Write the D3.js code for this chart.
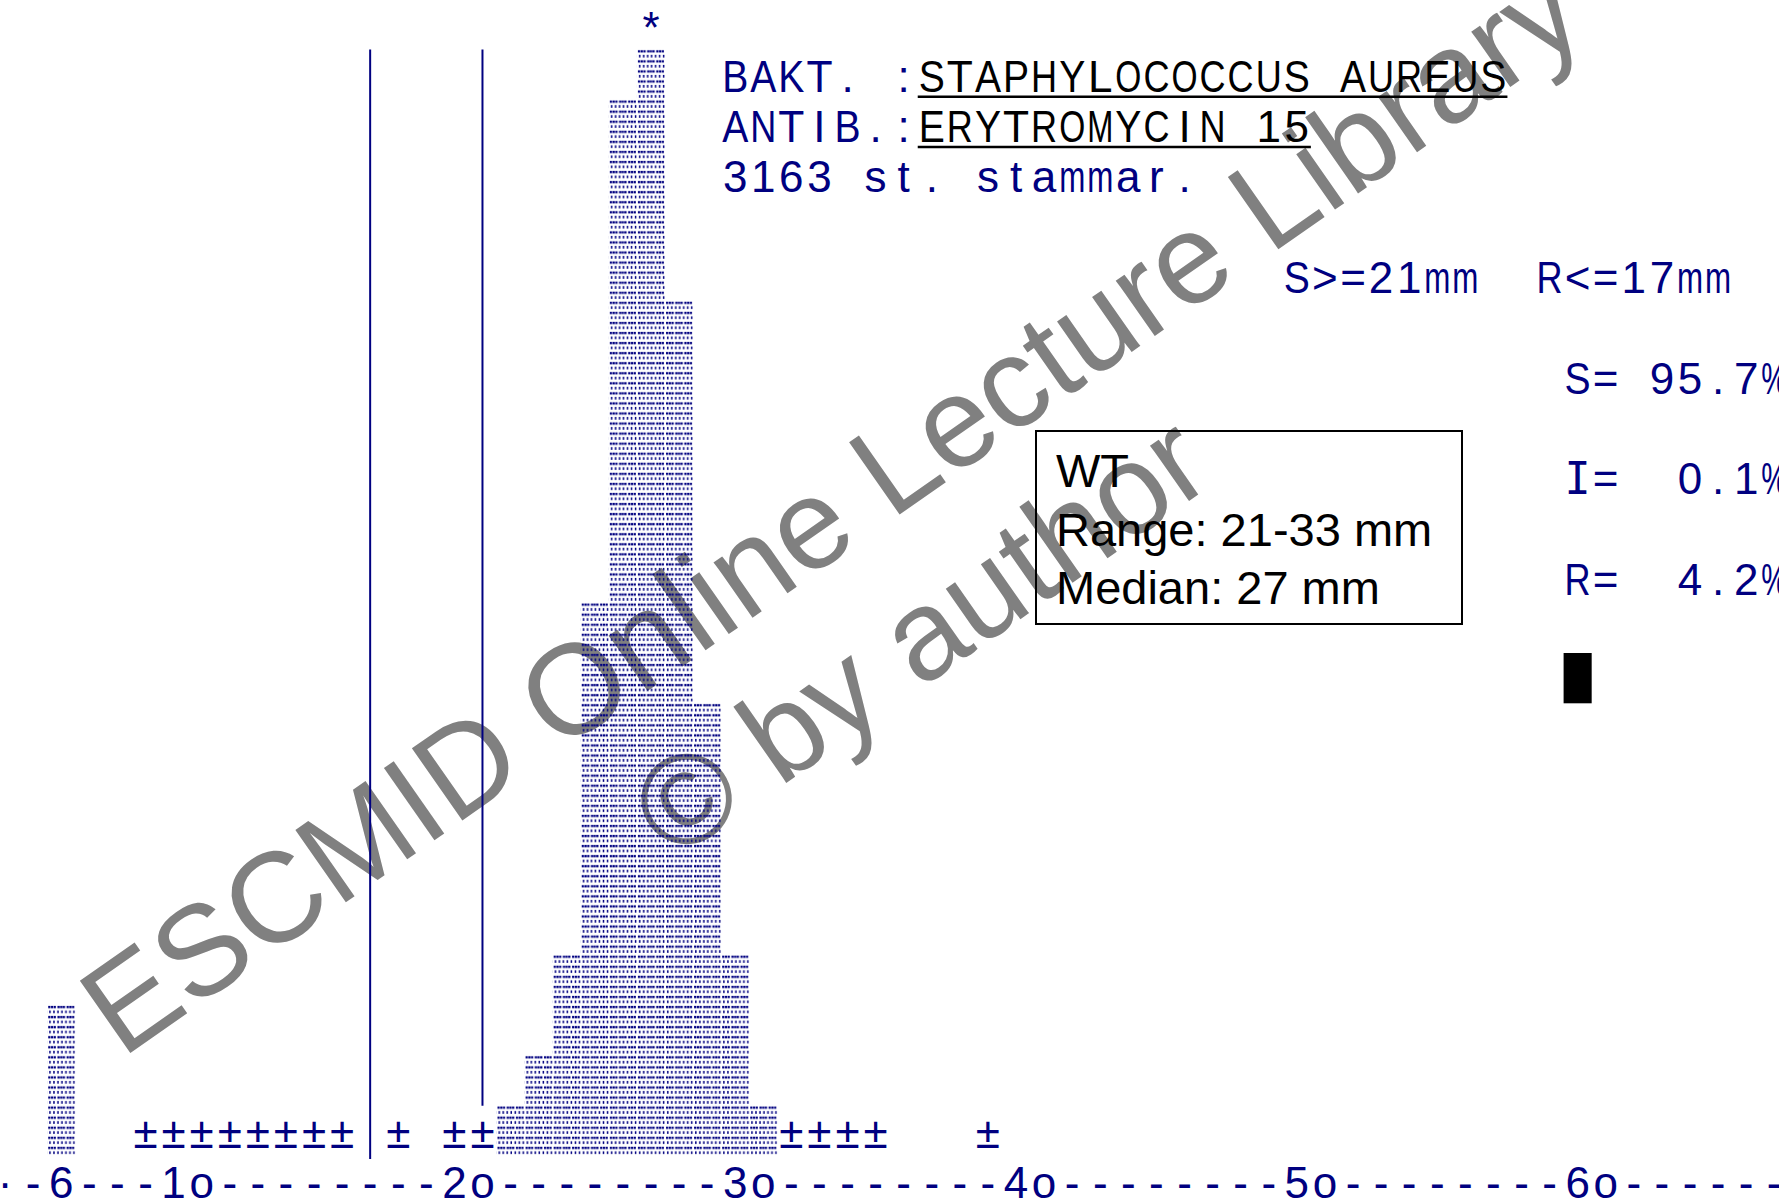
<!DOCTYPE html>
<html>
<head>
<meta charset="utf-8">
<script src="https://cdn.jsdelivr.net/npm/d3@7/dist/d3.min.js"></script>
<style>
body { margin: 0; background: #fff; }
text { font-family: "Liberation Sans", Arial, sans-serif; }
</style>
</head>
<body>
<svg id="chart" width="1779" height="1204"></svg>
<script>
// zone diameters (mm) and bar heights, counted in printer lines
var diameters = [6, 22, 23, 24, 25, 26, 27, 28, 29, 30, 31];
var lines = [3, 1, 2, 4, 11, 21, 22, 17, 9, 4, 1];
var offScale = [27];            // bars cut at the top, marked with *
var fewStrains = [9, 10, 11, 12, 13, 14, 15, 16, 18, 20, 21, 32, 33, 34, 35, 39];
var breakpoints = [17, 21];     // R<=17, S>=21
var tickValues = [6, 10, 20, 30, 40, 50, 60];

var headerLabels = ["BAKT. :", "ANTIB.:", "3163 st. stammar."];
var headerNames = ["STAPHYLOCOCCUS AUREUS", "ERYTROMYCIN 15", ""];
var breakpointText = "S>=21mm  R<=17mm";
var resultLabels = ["S=", "I=", "R="];
var resultPercents = [95.7, 0.1, 4.2];
var wtLines = ["WT", "Range: 21-33 mm", "Median: 27 mm"];

var navy = "#000080";
var svg = d3.select("#chart");

// one column per mm, one row per printer line
var x = d3.scaleLinear().domain([4, 67]).range([5.1, 1774.2]);
var y = d3.scaleLinear().domain([0, 22]).range([1156, 49.4]);
var cw = x(1) - x(0);
var rh = y(0) - y(1);

// halftone fill like the line printer glyph
var pat = svg.append("defs").append("pattern")
    .attr("id", "dots")
    .attr("patternUnits", "userSpaceOnUse")
    .attr("x", x(0) - cw / 2)
    .attr("y", y(22))
    .attr("width", cw)
    .attr("height", rh / 5);
pat.selectAll("rect.a")
    .data([1.0, 3.7, 6.4, 10.2, 12.9, 15.6, 19.4, 22.1, 24.8])
    .enter().append("rect")
    .attr("x", function(d) { return d; })
    .attr("y", 0.8).attr("width", 2.2).attr("height", 2.3)
    .attr("fill", navy);
pat.selectAll("rect.b")
    .data([2.0, 6.0, 10.0, 14.0, 18.0, 22.0, 26.0])
    .enter().append("rect")
    .attr("x", function(d) { return d; })
    .attr("y", 5.4).attr("width", 1.5).attr("height", 2.7)
    .attr("fill", navy);

// watermark (behind everything)
var wm = svg.append("g")
    .attr("transform", "translate(856,545) rotate(-35)")
    .attr("fill", "#808080")
    .attr("font-size", 128)
    .attr("text-anchor", "middle");
wm.append("text").attr("y", 0).text("ESCMID Online Lecture Library");
wm.append("text").attr("y", 155).text("\u00a9 by author");

// text on the character grid
function gridText(g, str, col, row, color, serifI) {
    str.split("").forEach(function(ch, i) {
        if (ch === " ") return;
        var t = g.append("text")
            .attr("x", x(col + i))
            .attr("y", y(row) - 8)
            .attr("fill", color)
            .attr("text-anchor", "middle")
            .attr("font-size", 44)
            .text(ch);
        if (serifI && ch === "I") t.style("font-family", "'DejaVu Sans Mono', monospace");
        var w = t.node().getComputedTextLength();
        if (w > cw - 2) {
            t.attr("textLength", cw - 2).attr("lengthAdjust", "spacingAndGlyphs");
        }
    });
}

var grid = svg.append("g");

// bars
svg.append("g").selectAll("rect")
    .data(d3.zip(diameters, lines))
    .enter().append("rect")
    .attr("x", function(d) { return x(d[0]) - cw / 2; })
    .attr("width", cw)
    .attr("y", function(d) { return y(d[1]); })
    .attr("height", function(d) { return y(0) - y(d[1]); })
    .attr("fill", "url(#dots)");

offScale.forEach(function(c) {
    grid.append("text")
        .attr("x", x(c)).attr("y", y(22) - 6)
        .attr("text-anchor", "middle")
        .attr("font-size", 44)
        .attr("fill", navy)
        .text("*");
});

// few strains: plus-minus signs on the bottom line
fewStrains.forEach(function(c) { gridText(grid, "\u00b1", c, 0, navy); });

// breakpoint lines
svg.append("g").selectAll("line")
    .data(breakpoints)
    .enter().append("line")
    .attr("x1", function(d) { return x(d); })
    .attr("x2", function(d) { return x(d); })
    .attr("y1", y(22))
    .attr("y2", function(d) { return fewStrains.indexOf(d) >= 0 ? y(1) : y(0) + 3; })
    .attr("stroke", navy)
    .attr("stroke-width", 2);

// axis line: .-6---1o--------2o ...
var axisChars = {4: "\u00b7"};
tickValues.forEach(function(t) {
    var s = t < 10 ? String(t) : String(t / 10) + "o";
    s.split("").forEach(function(ch, i) { axisChars[t + i] = ch; });
});
var axisStr = d3.range(4, 68).map(function(c) { return axisChars[c] || "-"; }).join("");
gridText(grid, axisStr, 4, -1, navy);

// header
headerLabels.forEach(function(lab, i) {
    var row = 21 - i;
    gridText(grid, lab, 30, row, navy);
    var name = headerNames[i];
    if (name) {
        var c0 = 30 + lab.length;
        gridText(grid, name, c0, row, "#000");
        grid.append("line")
            .attr("x1", x(c0) - cw / 2)
            .attr("x2", x(c0 + name.length - 1) + cw / 2)
            .attr("y1", y(row) - 3).attr("y2", y(row) - 3)
            .attr("stroke", "#000").attr("stroke-width", 2.5);
    }
});

gridText(grid, breakpointText, 50, 17, navy);

var fmt = d3.format(".1f");
resultLabels.forEach(function(lab, i) {
    var v = (fmt(resultPercents[i]) + "%").padStart(5, " ");
    gridText(grid, lab + " " + v, 60, 15 - 2 * i, navy, true);
});

// cursor block
grid.append("rect")
    .attr("x", x(60) - cw / 2).attr("width", cw)
    .attr("y", y(10)).attr("height", rh)
    .attr("fill", "#000");

// WT box
var box = svg.append("g");
box.append("rect")
    .attr("x", 1036).attr("y", 431)
    .attr("width", 426).attr("height", 193)
    .attr("fill", "none").attr("stroke", "#000").attr("stroke-width", 2);
box.selectAll("text")
    .data(wtLines)
    .enter().append("text")
    .attr("x", 1056)
    .attr("y", function(d, i) { return 487 + i * 58.5; })
    .attr("font-size", 47)
    .attr("fill", "#000")
    .text(function(d) { return d; });
</script>
</body>
</html>
